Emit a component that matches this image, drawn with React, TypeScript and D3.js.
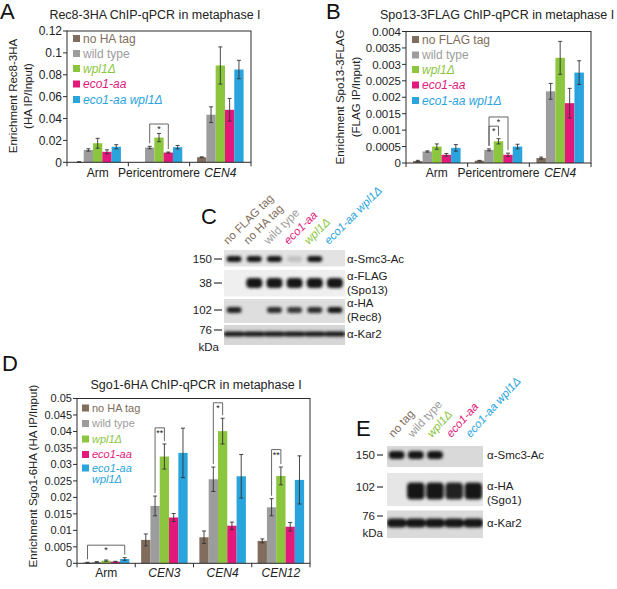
import * as d3 from 'd3';
import * as React from 'react';

const FONT = '"Liberation Sans", Arial, Helvetica, sans-serif';
const INK = '#2b2b2b';

// strain colours, same order as the strain name lists
const strainColors = ['#806d5d', '#9c9c9c', '#8cc63f', '#e2187b', '#2aa4dd'];
const strainItalic = [false, false, true, true, true];

const strainsA = ['no HA tag', 'wild type', 'wpl1Δ', 'eco1-aa', 'eco1-aa wpl1Δ'];
const strainsB = ['no FLAG tag', 'wild type', 'wpl1Δ', 'eco1-aa', 'eco1-aa wpl1Δ'];
const strainsD = ['no HA tag', 'wild type', 'wpl1Δ', 'eco1-aa', 'eco1-aa wpl1Δ'];

const regionsAB = ['Arm', 'Pericentromere', 'CEN4'];
const regionsABItalic = [false, false, true];
const regionsD = ['Arm', 'CEN3', 'CEN4', 'CEN12'];
const regionsDItalic = [false, true, true, true];

// A: Rec8-3HA enrichment, rows = strains, cols = regions
const rec8Mean = [
  [0.0003, 0.0002, 0.0046],
  [0.0113, 0.0135, 0.0435],
  [0.0174, 0.0226, 0.0885],
  [0.0096, 0.0089, 0.048],
  [0.0142, 0.0138, 0.0848],
];
const rec8Err = [
  [0.0002, 0, 0.0004],
  [0.0011, 0.0011, 0.0072],
  [0.0045, 0.0038, 0.017],
  [0.0018, 0.0005, 0.0104],
  [0.0019, 0.0016, 0.0084],
];
const rec8Ticks = [0, 0.02, 0.04, 0.06, 0.08, 0.1, 0.12];
const rec8Sig = [{ region: 1, from: 1, to: 3, top: 0.035, label: '*' }];

// B: Spo13-3FLAG enrichment
const spo13Mean = [
  [0.00006, 0.00007, 0.00015],
  [0.00035, 0.0004, 0.00218],
  [0.0005, 0.00066, 0.0032],
  [0.00025, 0.00025, 0.00182],
  [0.00046, 0.0005, 0.00275],
];
const spo13Err = [
  [0.00002, 0.00001, 0.00003],
  [0.00002, 0.00003, 0.00024],
  [0.00008, 0.00008, 0.0005],
  [0.00004, 0.00005, 0.00045],
  [0.0001, 0.00007, 0.00036],
];
const spo13Ticks = [0, 0.0005, 0.001, 0.0015, 0.002, 0.0025, 0.003, 0.0035, 0.004];
const spo13Sig = [
  { region: 1, from: 1, to: 3, top: 0.0014, label: '*' },
  { region: 1, from: 1, to: 2, top: 0.00112, label: '*' },
];

// D: Sgo1-6HA enrichment
const sgo1Mean = [
  [0.0002, 0.0071, 0.0079, 0.0068],
  [0.0004, 0.0174, 0.0255, 0.017],
  [0.0008, 0.0324, 0.0401, 0.0265],
  [0.0005, 0.0139, 0.0114, 0.0111],
  [0.0013, 0.0335, 0.0264, 0.0253],
];
const sgo1Err = [
  [0.0001, 0.0018, 0.0019, 0.0006],
  [0.0001, 0.003, 0.0037, 0.0026],
  [0.0002, 0.0038, 0.0039, 0.0027],
  [0.0001, 0.0012, 0.0011, 0.0013],
  [0.0004, 0.0075, 0.0066, 0.0073],
];
const sgo1Ticks = [0, 0.005, 0.01, 0.015, 0.02, 0.025, 0.03, 0.035, 0.04, 0.045, 0.05];
const sgo1Sig = [
  { region: 0, from: 0, to: 4, top: 0.0055, label: '*' },
  { region: 1, from: 1, to: 2, top: 0.0411, label: '**' },
  { region: 2, from: 1, to: 2, top: 0.0487, label: '*' },
  { region: 3, from: 1, to: 2, top: 0.0345, label: '**' },
];

// C and E: western blot lanes and band intensities (0 = no band)
const blotCLanes = ['no FLAG tag', 'no HA tag', 'wild type', 'eco1-aa', 'wpl1Δ', 'eco1-aa wpl1Δ'];
const blotCLaneColor = [0, 0, 1, 3, 2, 4];
const blotCSmc3 = [1, 1, 1, 0.15, 1, 0];
const blotCFlag = [0, 1, 1, 1, 1, 1];
const blotCHA = [0.95, 0, 0.9, 0.85, 0.9, 1];
const blotCKar2 = [1, 1, 1, 1, 1, 1];

const blotELanes = ['no tag', 'wild type', 'wpl1Δ', 'eco1-aa', 'eco1-aa wpl1Δ'];
const blotELaneColor = [0, 1, 2, 3, 4];
const blotESmc3 = [1, 1, 1, 0, 0];
const blotEHA = [0, 1, 1, 0.95, 1];
const blotEKar2 = [1, 1, 1, 1, 1];

const fmt = (d: number) => (d === 0 ? '0' : String(+d.toFixed(6)));

type Sig = { region: number; from: number; to: number; top: number; label: string };

type BarPanelProps = {
  left: number;
  right: number;
  top: number;
  bottom: number;
  barW: number;
  regions: string[];
  regionItalic: boolean[];
  names: string[];
  means: number[][];
  errs: number[][];
  ticks: number[];
  sig: Sig[];
  legendX: number;
  legendRows: number[];
  legendSize: number;
  wrapLast?: boolean;
  tickSize: number;
  labelY: number;
};

const BarPanel = (p: BarPanelProps) => {
  const y = d3
    .scaleLinear()
    .domain([0, p.ticks[p.ticks.length - 1]])
    .range([p.bottom, p.top]);
  const x0 = d3.scaleBand<string>().domain(p.regions).range([p.left, p.right]);
  const groupW = p.barW * p.names.length;
  const x1 = d3
    .scaleBand<string>()
    .domain(p.names.map((_, i) => String(i)))
    .range([0, groupW]);
  const off = (x0.bandwidth() - groupW) / 2;
  const barX = (s: number, r: number) => (x0(p.regions[r]) ?? 0) + off + (x1(String(s)) ?? 0);
  const cx = (s: number, r: number) => barX(s, r) + x1.bandwidth() / 2;

  return (
    <g fontFamily={FONT}>
      {/* bars */}
      {p.means.map((row, s) =>
        row.map((v, r) => (
          <rect
            key={`b${s}-${r}`}
            x={barX(s, r)}
            y={y(v)}
            width={x1.bandwidth()}
            height={p.bottom - y(v)}
            fill={strainColors[s]}
          />
        )),
      )}
      {/* error bars */}
      {p.means.map((row, s) =>
        row.map((v, r) => {
          const e = p.errs[s][r];
          if (!e) return null;
          const c = cx(s, r);
          return (
            <g key={`e${s}-${r}`} stroke="#333" strokeWidth={0.9}>
              <line x1={c} x2={c} y1={y(v + e)} y2={y(Math.max(0, v - e))} />
              <line x1={c - 2} x2={c + 2} y1={y(v + e)} y2={y(v + e)} />
              <line x1={c - 2} x2={c + 2} y1={y(Math.max(0, v - e))} y2={y(Math.max(0, v - e))} />
            </g>
          );
        }),
      )}
      {/* significance brackets */}
      {p.sig.map((b, i) => {
        const xl = cx(b.from, b.region);
        const xr = cx(b.to, b.region);
        const yt = y(b.top);
        const yl = y(p.means[b.from][b.region] + p.errs[b.from][b.region]) - 3;
        const yr = y(p.means[b.to][b.region] + p.errs[b.to][b.region]) - 3;
        return (
          <g key={`s${i}`}>
            <path
              d={`M${xl},${yl}V${yt}H${xr}V${yr}`}
              fill="none"
              stroke="#555"
              strokeWidth={0.9}
            />
            <text x={(xl + xr) / 2} y={yt + 8} fontSize={9} textAnchor="middle" fill="#222">
              {b.label}
            </text>
          </g>
        );
      })}
      {/* frame */}
      <rect
        x={p.left}
        y={p.top}
        width={p.right - p.left}
        height={p.bottom - p.top}
        fill="none"
        stroke={INK}
        strokeWidth={1}
      />
      {/* y axis ticks */}
      {p.ticks.map((t) => (
        <g key={`t${t}`}>
          <line x1={p.left - 4} x2={p.left} y1={y(t)} y2={y(t)} stroke={INK} />
          <text
            x={p.left - 5}
            y={y(t)}
            dy="0.36em"
            fontSize={p.tickSize}
            textAnchor="end"
            fill="#222"
          >
            {fmt(t)}
          </text>
        </g>
      ))}
      {/* x axis category ticks and labels */}
      {[...p.regions.map((r) => x0(r) ?? 0), p.right].map((xx, i) => (
        <line key={`xt${i}`} x1={xx} x2={xx} y1={p.bottom} y2={p.bottom + 4} stroke={INK} />
      ))}
      {p.regions.map((r, i) => (
        <text
          key={`xl${r}`}
          x={(x0(r) ?? 0) + x0.bandwidth() / 2}
          y={p.labelY}
          fontSize={12}
          textAnchor="middle"
          fontStyle={p.regionItalic[i] ? 'italic' : 'normal'}
          fill="#222"
        >
          {r}
        </text>
      ))}
      {/* legend */}
      {p.names.map((n, i) => {
        const lines = p.wrapLast && i === p.names.length - 1 ? n.split(' ') : [n];
        return (
          <g key={`lg${i}`}>
            <rect x={p.legendX} y={p.legendRows[i] - 3.5} width={7} height={7} fill={strainColors[i]} />
            {lines.map((ln, j) => (
              <text
                key={j}
                x={p.legendX + 10}
                y={p.legendRows[i] + j * (p.legendSize + 0.5)}
                dy="0.36em"
                fontSize={p.legendSize}
                fill={strainColors[i]}
                fontStyle={strainItalic[i] ? 'italic' : 'normal'}
              >
                {ln}
              </text>
            ))}
          </g>
        );
      })}
    </g>
  );
};

type StripProps = {
  id: string;
  x: number;
  w: number;
  y0: number;
  y1: number;
  bands: number[];
  by: number;
  bw: number;
  bh: number;
  bg: string;
};

const Strip = ({ id, x, w, y0, y1, bands, by, bw, bh, bg }: StripProps) => {
  const lane = d3
    .scaleBand<number>()
    .domain(d3.range(bands.length))
    .range([x, x + w]);
  return (
    <g>
      <clipPath id={`clip-${id}`}>
        <rect x={x} y={y0} width={w} height={y1 - y0} />
      </clipPath>
      <rect x={x} y={y0} width={w} height={y1 - y0} fill={bg} />
      <g clipPath={`url(#clip-${id})`}>
        <g filter="url(#bandBlur)">
          {bands.map((v, i) =>
            v > 0 ? (
              <rect
                key={i}
                x={(lane(i) ?? 0) + lane.bandwidth() / 2 - bw / 2}
                y={by - bh / 2}
                width={bw}
                height={bh}
                rx={Math.min(bh / 2, 4)}
                fill="#151515"
                opacity={v}
              />
            ) : null,
          )}
        </g>
      </g>
    </g>
  );
};

type LaneLabelProps = {
  x: number;
  w: number;
  y: number;
  lanes: string[];
  colorIdx: number[];
  angle: number;
  dx: number;
};

const LaneLabels = ({ x, w, y, lanes, colorIdx, angle, dx }: LaneLabelProps) => {
  const lane = d3
    .scaleBand<number>()
    .domain(d3.range(lanes.length))
    .range([x, x + w]);
  return (
    <g fontFamily={FONT} fontSize={11.5}>
      {lanes.map((l, i) => {
        const c = colorIdx[i];
        return (
          <text
            key={l}
            transform={`translate(${(lane(i) ?? 0) + lane.bandwidth() / 2 + dx},${y}) rotate(${angle})`}
            fill={strainColors[c]}
            fontStyle={strainItalic[c] ? 'italic' : 'normal'}
          >
            {l}
          </text>
        );
      })}
    </g>
  );
};

const Marker = ({ y, label, dashX }: { y: number; label: string; dashX: [number, number] }) => (
  <g>
    <text x={dashX[0] - 2} y={y} dy="0.36em" fontSize={11.5} textAnchor="end" fill="#222">
      {label}
    </text>
    <line x1={dashX[0]} x2={dashX[1]} y1={y} y2={y} stroke="#222" strokeWidth={1.1} />
  </g>
);

export default function App() {
  return (
    <div style={{ position: 'absolute', left: 0, top: 0, background: '#fff' }}>
      <svg width={617} height={589} fontFamily={FONT} style={{ display: 'block' }}>
        <defs>
          <filter id="bandBlur" x="-30%" y="-60%" width="160%" height="220%">
            <feGaussianBlur stdDeviation="1.4" />
          </filter>
        </defs>
        <rect width={617} height={589} fill="#fff" />

        {/* panel letters */}
        <g fontSize={22} fill="#111">
          <text x={0} y={19}>A</text>
          <text x={326} y={19}>B</text>
          <text x={201} y={224}>C</text>
          <text x={2} y={371}>D</text>
          <text x={356} y={436}>E</text>
        </g>

        {/* titles */}
        <g fontSize={12.5} fill="#222">
          <text x={155} y={19} textAnchor="middle">Rec8-3HA ChIP-qPCR in metaphase I</text>
          <text x={380} y={19}>Spo13-3FLAG ChIP-qPCR in metaphase I</text>
          <text x={196} y={389} textAnchor="middle">Sgo1-6HA ChIP-qPCR in metaphase I</text>
        </g>

        {/* y axis titles */}
        <g fontSize={11.5} fill="#222" textAnchor="middle">
          <text transform="translate(13,96) rotate(-90)" dy="0.36em">Enrichment Rec8-3HA</text>
          <text transform="translate(28,96) rotate(-90)" dy="0.36em">(HA IP/Input)</text>
          <text transform="translate(340,97) rotate(-90)" dy="0.36em">Enrichment Spo13-3FLAG</text>
          <text transform="translate(356,97) rotate(-90)" dy="0.36em">(FLAG IP/Input)</text>
          <text transform="translate(33,476) rotate(-90)" dy="0.36em">Enrichment Sgo1-6HA (HA IP/Input)</text>
        </g>

        <BarPanel
          left={67}
          right={251}
          top={31}
          bottom={162.3}
          barW={9.3}
          regions={regionsAB}
          regionItalic={regionsABItalic}
          names={strainsA}
          means={rec8Mean}
          errs={rec8Err}
          ticks={rec8Ticks}
          sig={rec8Sig}
          legendX={73}
          legendRows={[38.5, 53.5, 68.5, 84, 99.5]}
          legendSize={12}
          tickSize={12}
          labelY={177}
        />
        <BarPanel
          left={406}
          right={591}
          top={31.5}
          bottom={163}
          barW={9.5}
          regions={regionsAB}
          regionItalic={regionsABItalic}
          names={strainsB}
          means={spo13Mean}
          errs={spo13Err}
          ticks={spo13Ticks}
          sig={spo13Sig}
          legendX={412}
          legendRows={[39.5, 55, 69.5, 85, 100.5]}
          legendSize={12}
          tickSize={11.5}
          labelY={177}
        />
        <BarPanel
          left={77}
          right={310}
          top={398.5}
          bottom={563.3}
          barW={9.3}
          regions={regionsD}
          regionItalic={regionsDItalic}
          names={strainsD}
          means={sgo1Mean}
          errs={sgo1Err}
          ticks={sgo1Ticks}
          sig={sgo1Sig}
          legendX={82}
          legendRows={[408, 423.5, 439, 454.5, 468]}
          legendSize={11}
          wrapLast
          tickSize={11}
          labelY={577}
        />

        {/* C: western blot */}
        <LaneLabels x={224} w={121} y={245} lanes={blotCLanes} colorIdx={blotCLaneColor} angle={-45} dx={-6} />
        <Strip id="c1" x={224} w={121} y0={250} y1={266.5} bands={blotCSmc3} by={259} bw={15} bh={6} bg="#e3e3e3" />
        <Strip id="c2" x={224} w={121} y0={270} y1={296.5} bands={blotCFlag} by={283} bw={16} bh={10} bg="#efefef" />
        <Strip id="c3" x={224} w={121} y0={299} y1={323} bands={blotCHA} by={310} bw={15} bh={6} bg="#dedede" />
        <Strip id="c4" x={224} w={121} y0={325} y1={345} bands={blotCKar2} by={334} bw={21} bh={5} bg="#d6d6d6" />
        <g fontSize={11.5} fill="#222">
          <Marker y={259} label="150" dashX={[214, 222]} />
          <Marker y={283} label="38" dashX={[214, 222]} />
          <Marker y={310} label="102" dashX={[214, 222]} />
          <Marker y={330} label="76" dashX={[214, 222]} />
          <text x={219} y={347} dy="0.36em" textAnchor="end">kDa</text>
          <text x={347} y={259} dy="0.36em">α-Smc3-Ac</text>
          <text x={347} y={276} dy="0.36em">α-FLAG</text>
          <text x={347} y={290} dy="0.36em">(Spo13)</text>
          <text x={347} y={303} dy="0.36em">α-HA</text>
          <text x={347} y={317} dy="0.36em">(Rec8)</text>
          <text x={347} y={334} dy="0.36em">α-Kar2</text>
        </g>

        {/* E: western blot */}
        <LaneLabels x={387} w={96} y={438} lanes={blotELanes} colorIdx={blotELaneColor} angle={-48} dx={-3} />
        <Strip id="e1" x={387} w={96} y0={446} y1={467} bands={blotESmc3} by={455} bw={16} bh={8} bg="#d9d9d9" />
        <Strip id="e2" x={387} w={96} y0={473} y1={506} bands={blotEHA} by={491} bw={17.5} bh={17} bg="#e6e6e6" />
        <Strip id="e3" x={387} w={96} y0={510.5} y1={538} bands={blotEKar2} by={523} bw={19.5} bh={9} bg="#dadada" />
        <g fontSize={11.5} fill="#222">
          <Marker y={455} label="150" dashX={[377, 383]} />
          <Marker y={487} label="102" dashX={[377, 383]} />
          <Marker y={516} label="76" dashX={[377, 383]} />
          <text x={383} y={533} dy="0.36em" textAnchor="end">kDa</text>
          <text x={487} y={455} dy="0.36em">α-Smc3-Ac</text>
          <text x={487} y={486} dy="0.36em">α-HA</text>
          <text x={487} y={500} dy="0.36em">(Sgo1)</text>
          <text x={487} y={523} dy="0.36em">α-Kar2</text>
        </g>
      </svg>
    </div>
  );
}
